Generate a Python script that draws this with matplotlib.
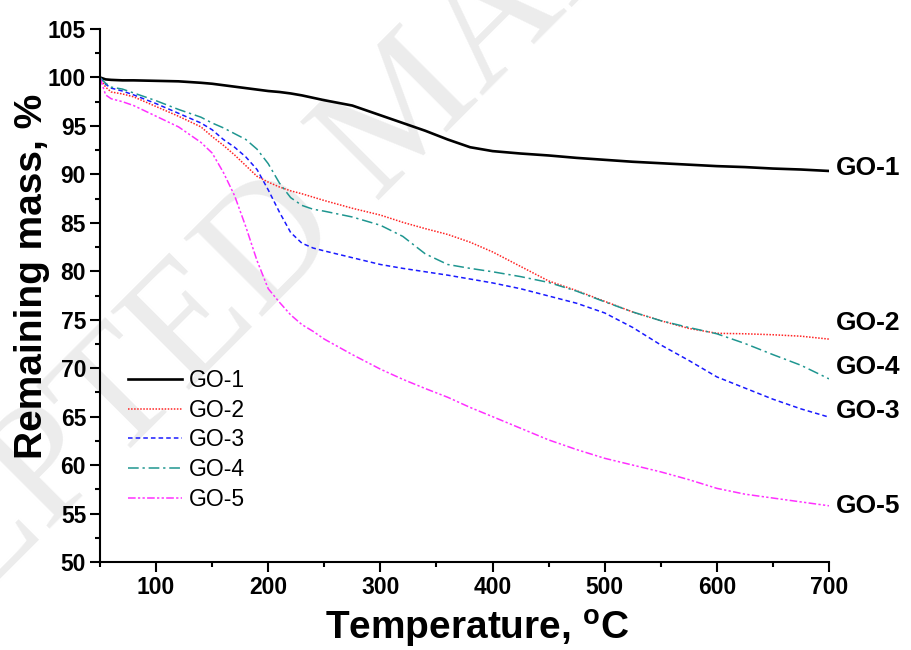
import matplotlib
matplotlib.use('Agg')
import matplotlib.pyplot as plt
from matplotlib.ticker import MultipleLocator

plt.rcParams['font.family'] = ['Liberation Sans', 'DejaVu Sans']
plt.rcParams['mathtext.fontset'] = 'custom'
plt.rcParams['mathtext.rm'] = 'Liberation Sans:bold'
plt.rcParams['mathtext.it'] = 'Liberation Sans:bold'
plt.rcParams['mathtext.bf'] = 'Liberation Sans:bold'

# TGA curves, values
temperature = [50, 55, 60, 70, 80, 100, 120, 140, 150, 160, 170, 180, 190, 200,
               210, 220, 230, 240, 250, 275, 300, 320, 340, 360, 380, 400, 425,
               450, 475, 500, 525, 550, 575, 600, 625, 650, 675, 700]

go1 = [100.0, 99.8, 99.75, 99.7, 99.7, 99.65, 99.6, 99.45, 99.35, 99.2, 99.05, 98.9,
       98.75, 98.6, 98.5, 98.35, 98.15, 97.9, 97.65, 97.1, 96.1, 95.3, 94.5, 93.6,
       92.8, 92.4, 92.15, 91.95, 91.7, 91.5, 91.3, 91.15, 91.0, 90.85, 90.75, 90.6,
       90.5, 90.35]
go2 = [100.0, 99.0, 98.5, 98.3, 98.0, 97.0, 96.0, 94.9, 93.9, 93.0, 92.0, 90.9,
       89.8, 89.2, 88.7, 88.3, 88.0, 87.65, 87.3, 86.5, 85.8, 85.05, 84.4, 83.8,
       83.0, 82.0, 80.5, 79.0, 78.0, 76.9, 75.8, 74.9, 74.1, 73.6, 73.55, 73.45,
       73.3, 73.0]
go3 = [100.0, 99.3, 98.9, 98.6, 98.2, 97.3, 96.3, 95.3, 94.6, 93.6, 92.8, 91.8,
       90.5, 88.4, 86.1, 84.0, 82.9, 82.4, 82.1, 81.4, 80.7, 80.3, 79.95, 79.6,
       79.2, 78.8, 78.2, 77.45, 76.7, 75.7, 74.2, 72.4, 70.8, 69.1, 67.95, 66.8,
       65.8, 64.95]
go4 = [100.0, 99.4, 99.0, 98.8, 98.4, 97.6, 96.7, 95.9, 95.3, 94.8, 94.2, 93.6,
       92.6, 91.1, 89.1, 87.6, 86.8, 86.4, 86.2, 85.6, 84.75, 83.6, 81.8, 80.7,
       80.3, 79.95, 79.45, 78.85, 77.95, 76.85, 75.8, 74.9, 74.2, 73.55, 72.55,
       71.4, 70.3, 68.9]
go5 = [100.0, 98.2, 97.8, 97.5, 97.1, 96.0, 94.9, 93.3, 92.2, 90.2, 87.8, 84.6,
       81.1, 78.2, 76.8, 75.5, 74.5, 73.8, 73.0, 71.4, 69.9, 68.85, 67.9, 67.0,
       65.95, 65.0, 63.8, 62.6, 61.6, 60.7, 60.0, 59.3, 58.5, 57.6, 57.0, 56.6,
       56.2, 55.8]

names = ['GO-1', 'GO-2', 'GO-3', 'GO-4', 'GO-5']

fig = plt.figure(figsize=(9.12, 6.5), dpi=100)
ax = fig.add_axes([100 / 912, 88 / 650, 729 / 912, 533 / 650])
ax.set_facecolor('none')

# faint watermark from the source page
fig.text(-0.30, -0.311, 'ACCEPTED MANUSCRIPT', rotation=45, rotation_mode='anchor',
         ha='left', va='baseline', fontsize=122, family='Liberation Serif',
         color='#ececec', zorder=-1)

ax.plot(temperature, go1, color='black', lw=1.9, ls='-', label=names[0])
ax.plot(temperature, go2, color='#ff2424', lw=1.1, ls=(0, (1, 1)), label=names[1])
ax.plot(temperature, go3, color='#1a1aff', lw=1.1, ls=(0, (3, 2)), label=names[2])
ax.plot(temperature, go4, color='#1f9690', lw=1.1, ls=(0, (7, 2.5, 1.5, 2.5)), label=names[3])
ax.plot(temperature, go5, color='#ff30ff', lw=1.1, ls=(0, (5, 1.5, 1.5, 1.5, 1.5, 1.5)),
        label=names[4])

# curve labels at the right end
label_y = {'GO-1': 90.7, 'GO-2': 74.7, 'GO-4': 70.1, 'GO-3': 65.6, 'GO-5': 55.8}
for name, yv in label_y.items():
    ax.text(706, yv, name, fontsize=19, fontweight='bold', ha='left', va='center',
            clip_on=False)

ax.set_xlim(50, 700)
ax.set_ylim(50, 105)
ax.xaxis.set_minor_locator(MultipleLocator(50))
ax.yaxis.set_major_locator(MultipleLocator(5))
ax.yaxis.set_minor_locator(MultipleLocator(2.5))
ax.set_xticks([100, 200, 300, 400, 500, 600, 700])

for side in ['top', 'right']:
    ax.spines[side].set_visible(False)
for side in ['left', 'bottom']:
    ax.spines[side].set_linewidth(1.5)

ax.tick_params(which='major', direction='out', length=7, width=1.5, pad=3,
               labelsize=16.5)
ax.tick_params(which='minor', direction='out', length=3.5, width=1.5)
for lab in ax.get_xticklabels() + ax.get_yticklabels():
    lab.set_fontweight('bold')

ax.set_xlabel(r'Temperature, $^{\mathrm{o}}$C', fontsize=28, fontweight='bold')
ax.xaxis.set_label_coords(0.517, -0.146)
ax.xaxis.label.set_va('baseline')
ax.set_ylabel('Remaining mass, %', fontsize=28, fontweight='bold')
ax.yaxis.set_label_coords(-0.0686, 0.535)

ax.legend(loc='upper left', bbox_to_anchor=(0.0384, 0.362), frameon=False,
          fontsize=16.5, handlelength=2.36, handletextpad=0.28, labelspacing=0.29,
          borderpad=0, borderaxespad=0)

fig.savefig('out.png', dpi=100)
